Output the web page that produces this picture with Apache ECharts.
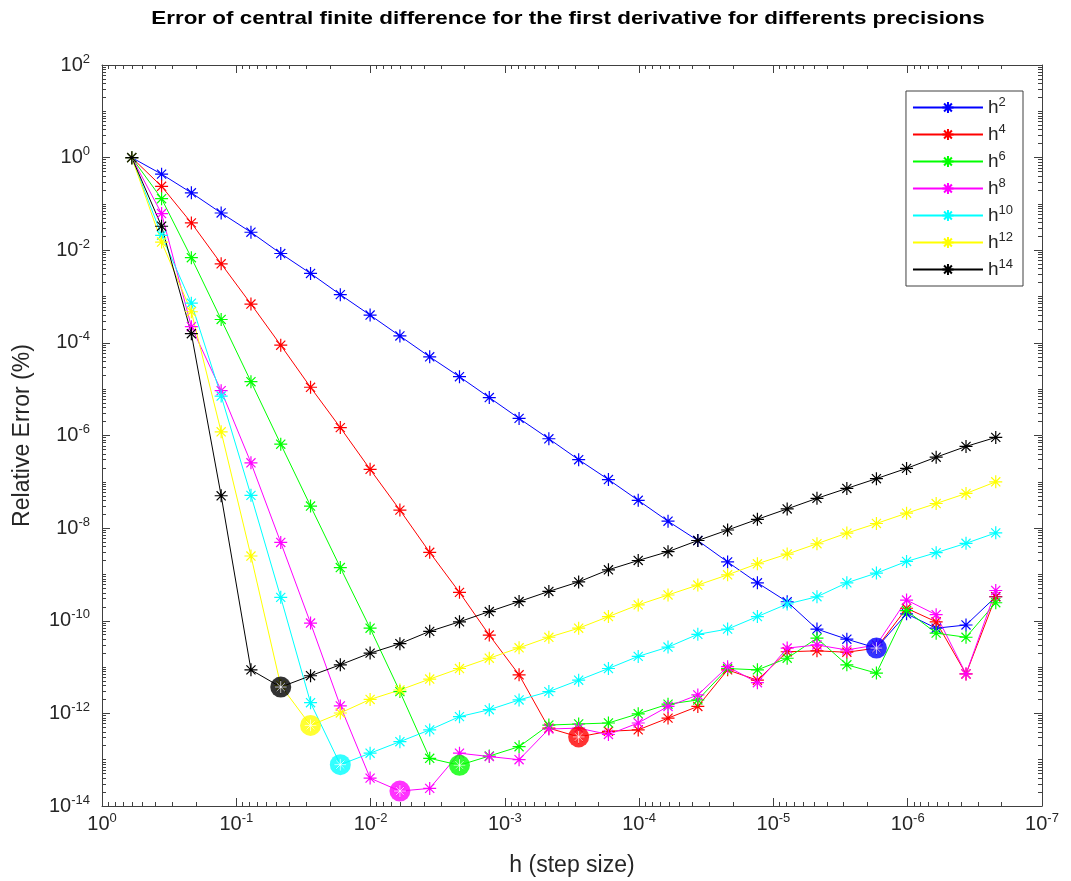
<!DOCTYPE html>
<html>
<head>
<meta charset="utf-8">
<title>Error of central finite difference</title>
<script src="https://cdn.jsdelivr.net/npm/echarts@6/dist/echarts.min.js"></script>
<style>
  html, body { margin: 0; padding: 0; background: #fff; }
  #main { width: 1071px; height: 881px; }
</style>
</head>
<body>
<div id="main"></div>
<script>
// step sizes h (x axis)
const stepH = [0.6, 0.36, 0.216, 0.1296, 0.07776, 0.046656, 0.02799, 0.0168, 0.01008, 6.047e-3,
  3.628e-3, 2.177e-3, 1.306e-3, 7.836e-4, 4.702e-4, 2.821e-4, 1.693e-4, 1.016e-4, 6.094e-5, 3.656e-5,
  2.194e-5, 1.316e-5, 7.90e-6, 4.74e-6, 2.84e-6, 1.71e-6, 1.02e-6, 6.14e-7, 3.68e-7, 2.21e-7];

// relative error for each precision order
const errH2 = [1, 0.44, 0.174, 0.0638, 0.0245, 8.5e-3, 3.16e-3, 1.10e-3, 3.98e-4, 1.41e-4,
  5.0e-5, 1.86e-5, 6.6e-6, 2.34e-6, 8.5e-7, 3.0e-7, 1.12e-7, 3.98e-8, 1.41e-8, 5.4e-9,
  1.86e-9, 6.6e-10, 2.57e-10, 6.6e-11, 4.0e-11, 2.57e-11, 1.41e-10, 6.9e-11, 8.1e-11, 3.3e-10];
const errH4 = [1, 0.24, 0.039, 5.1e-3, 6.9e-4, 8.9e-5, 1.10e-5, 1.48e-6, 1.86e-7, 2.45e-8,
  3.0e-9, 4.1e-10, 4.9e-11, 6.8e-12, 4.8e-13, 3.1e-13, 4.1e-13, 4.4e-13, 7.9e-13, 1.41e-12,
  8.7e-12, 5.2e-12, 2.14e-11, 2.24e-11, 2.09e-11, 2.57e-11, 1.86e-10, 9.5e-11, 7.1e-12, 3.3e-10];
const errH6 = [1, 0.13, 6.9e-3, 3.2e-4, 1.45e-5, 6.5e-7, 3.0e-8, 1.41e-9, 6.9e-11, 2.95e-12,
  1.07e-13, 7.6e-14, 1.20e-13, 1.91e-13, 5.6e-13, 5.9e-13, 6.2e-13, 9.8e-13, 1.58e-12, 1.95e-12,
  9.3e-12, 8.7e-12, 1.55e-11, 4.2e-11, 1.12e-11, 7.4e-12, 1.66e-10, 5.4e-11, 4.4e-11, 2.45e-10];
const errH8 = [1, 0.062, 2.24e-4, 9.3e-6, 2.57e-7, 4.9e-9, 8.9e-11, 1.45e-12, 4.0e-14, 2.1e-14,
  2.4e-14, 1.38e-13, 1.17e-13, 1.0e-13, 4.6e-13, 4.8e-13, 3.5e-13, 6.2e-13, 1.41e-12, 2.5e-12,
  1.02e-11, 4.6e-12, 2.57e-11, 3.0e-11, 2.34e-11, 3.0e-11, 2.8e-10, 1.35e-10, 7.1e-12, 4.5e-10];
const errH10 = [1, 0.021, 7.2e-4, 7.1e-6, 5.1e-8, 3.2e-10, 1.70e-12, 7.8e-14, 1.38e-13, 2.45e-13,
  4.4e-13, 8.5e-13, 1.20e-12, 1.95e-12, 2.95e-12, 5.2e-12, 9.3e-12, 1.70e-11, 2.7e-11, 5.1e-11,
  6.6e-11, 1.23e-10, 2.3e-10, 3.3e-10, 6.6e-10, 1.07e-9, 1.91e-9, 2.95e-9, 4.7e-9, 7.9e-9];
const errH12 = [1, 0.015, 4.7e-4, 1.20e-6, 2.5e-9, 4.0e-12, 5.5e-13, 1.02e-12, 2.0e-12, 3.2e-12,
  5.5e-12, 9.3e-12, 1.55e-11, 2.6e-11, 4.4e-11, 6.9e-11, 1.23e-10, 2.2e-10, 3.6e-10, 5.9e-10,
  9.8e-10, 1.70e-9, 2.75e-9, 4.6e-9, 7.8e-9, 1.26e-8, 2.1e-8, 3.4e-8, 5.6e-8, 1.0e-7];
const errH14 = [1, 0.033, 1.58e-4, 5.0e-8, 8.7e-12, 3.7e-12, 6.5e-12, 1.12e-11, 2.0e-11, 3.2e-11,
  5.9e-11, 9.5e-11, 1.58e-10, 2.6e-10, 4.3e-10, 6.9e-10, 1.26e-9, 2.0e-9, 3.1e-9, 5.4e-9,
  9.1e-9, 1.55e-8, 2.6e-8, 4.4e-8, 7.2e-8, 1.17e-7, 1.95e-7, 3.4e-7, 5.8e-7, 9.1e-7];

const seriesNames = ['h2', 'h4', 'h6', 'h8', 'h10', 'h12', 'h14'];
const seriesErrors = [errH2, errH4, errH6, errH8, errH10, errH12, errH14];
const seriesColors = ['#0000ff', '#ff0000', '#00ff00', '#ff00ff', '#00ffff', '#ffff00', '#000000'];

const xMajorTicks = [1, 1e-1, 1e-2, 1e-3, 1e-4, 1e-5, 1e-6, 1e-7];
const yMajorTicks = [1e2, 1, 1e-2, 1e-4, 1e-6, 1e-8, 1e-10, 1e-12, 1e-14];

// minor ticks at 2..9 of every decade
function minorTicks(fromExp, toExp) {
  const out = [];
  for (let e = fromExp; e < toExp; e++) {
    for (let m = 1; m <= 9; m++) out.push(Number((m + 'e' + e)));
  }
  out.push(Number('1e' + toExp));
  return out;
}
const xMinorTicks = minorTicks(-7, 0);
const yMinorTicks = minorTicks(-14, 2);

const FONT = 'Liberation Sans, Arial, sans-serif';
const TXT = '#262626';
const AXIS = '#404040';
const ASTER = 'path://M10,0L10,20M0,10L20,10M3,3L17,17M3,17L17,3';

const powRich = {
  b: { fontSize: 20, color: TXT, fontFamily: FONT },
  s: { fontSize: 13, color: TXT, fontFamily: FONT, padding: [0, 0, 12, 0] }
};
function powLabel(v) {
  const e = Math.round(Math.log10(v));
  return '{b|10}{s|' + e + '}';
}

function makeXAxis(pos, major, withLabel) {
  return {
    type: 'log', logBase: 10, position: pos, inverse: true, min: 1e-7, max: 1,
    gridIndex: 0,
    axisLine: { show: major, lineStyle: { color: AXIS, width: 1 } },
    axisTick: { show: true, inside: true, length: major ? 8 : 4,
      customValues: major ? xMajorTicks : xMinorTicks, lineStyle: { color: AXIS } },
    axisLabel: withLabel ? { show: true, customValues: xMajorTicks, formatter: powLabel, rich: powRich, margin: 6 } : { show: false },
    splitLine: { show: false }, minorTick: { show: false },
    name: withLabel ? 'h (step size)' : '', nameLocation: 'middle', nameGap: 48,
    nameTextStyle: { fontSize: 23, color: TXT, fontFamily: FONT }
  };
}
function makeYAxis(pos, major, withLabel) {
  return {
    type: 'log', logBase: 10, position: pos, min: 1e-14, max: 1e2,
    gridIndex: 0,
    axisLine: { show: major, lineStyle: { color: AXIS, width: 1 } },
    axisTick: { show: true, inside: true, length: major ? 8 : 4,
      customValues: major ? yMajorTicks : yMinorTicks, lineStyle: { color: AXIS } },
    axisLabel: withLabel ? { show: true, customValues: yMajorTicks, formatter: powLabel, rich: powRich, margin: 12 } : { show: false },
    splitLine: { show: false }, minorTick: { show: false },
    name: withLabel ? 'Relative Error (%)' : '', nameLocation: 'middle', nameGap: 68,
    nameTextStyle: { fontSize: 23, color: TXT, fontFamily: FONT }
  };
}

const lineSeries = seriesNames.map((name, i) => ({
  name: name, type: 'line', xAxisIndex: 0, yAxisIndex: 0,
  data: stepH.map((h, k) => [h, seriesErrors[i][k]]),
  symbol: ASTER, symbolSize: 13,
  lineStyle: { width: 1, color: seriesColors[i] },
  itemStyle: { color: seriesColors[i], borderColor: seriesColors[i], borderWidth: 1.2 },
  emphasis: { disabled: true },
  animation: false
}));

// minimum of each curve, highlighted by a big marker
const minPoints = seriesErrors.map(err => {
  let best = 0;
  err.forEach((v, k) => { if (v < err[best]) best = k; });
  return [stepH[best], err[best]];
});
const minSeries = seriesNames.map((name, i) => ({
  name: 'min ' + name, type: 'scatter', xAxisIndex: 0, yAxisIndex: 0,
  data: [minPoints[i]], symbol: 'circle', symbolSize: 21,
  itemStyle: { color: seriesColors[i] },
  emphasis: { disabled: true }, animation: false, z: 5
}));
const minStars = {
  name: 'min star', type: 'scatter', xAxisIndex: 0, yAxisIndex: 0,
  data: minPoints, symbol: ASTER, symbolSize: 12,
  itemStyle: { color: 'none', borderColor: '#ffffff', borderWidth: 1, opacity: 0.8 },
  emphasis: { disabled: true }, animation: false, z: 6
};

const chart = echarts.init(document.getElementById('main'), null, { renderer: 'canvas' });
chart.setOption({
  backgroundColor: '#ffffff',
  animation: false,
  textStyle: { fontFamily: FONT },
  graphic: [{
    type: 'text', x: 568, y: 19, scaleX: 1.18,
    style: {
      text: 'Error of central finite difference for the first derivative for differents precisions',
      align: 'center', verticalAlign: 'middle',
      font: 'bold 19px ' + FONT, fill: '#000000'
    }
  }],
  grid: { left: 102, right: 29, top: 65, bottom: 75, outerBoundsMode: 'none' },
  xAxis: [
    makeXAxis('bottom', true, true),
    makeXAxis('bottom', false, false),
    makeXAxis('top', true, false),
    makeXAxis('top', false, false)
  ],
  yAxis: [
    makeYAxis('left', true, true),
    makeYAxis('left', false, false),
    makeYAxis('right', true, false),
    makeYAxis('right', false, false)
  ],
  legend: {
    data: seriesNames, orient: 'vertical', right: 48, top: 91,
    padding: [5, 10, 5, 6], itemGap: 4, itemWidth: 70, itemHeight: 14,
    backgroundColor: '#ffffff', borderColor: AXIS, borderWidth: 1,
    formatter: name => '{b|h}{s|' + name.slice(1) + '}',
    textStyle: {
      rich: {
        b: { fontSize: 19, color: TXT, fontFamily: FONT, lineHeight: 20 },
        s: { fontSize: 13, color: TXT, fontFamily: FONT, lineHeight: 20, padding: [0, 0, 10, 0] }
      }
    }
  },
  series: lineSeries.concat(minSeries, [minStars])
});
</script>
</body>
</html>
